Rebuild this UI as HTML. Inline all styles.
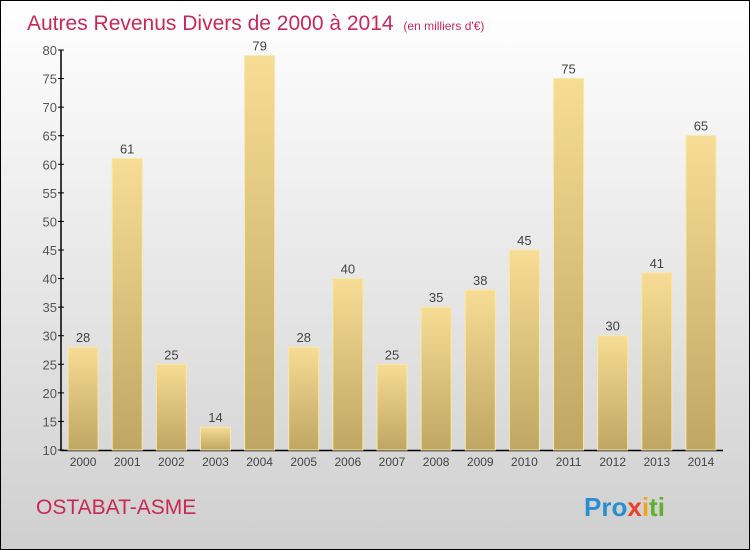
<!DOCTYPE html>
<html><head><meta charset="utf-8"><style>
body{margin:0}
#wrap{width:748px;height:548px;border:1px solid #000;background:linear-gradient(#ffffff,#cfcfcf);position:relative;font-family:"Liberation Sans",sans-serif;overflow:hidden}
</style></head><body>
<div id="wrap">
<svg width="748" height="548" id="chart">
<defs><linearGradient id="bg" x1="0" y1="0" x2="0" y2="1"><stop offset="0" stop-color="#f6dc94"/><stop offset="1" stop-color="#bfa662"/></linearGradient></defs>
<text x="26" y="29" font-size="21" fill="#c8285a">Autres Revenus Divers de 2000 à 2014 <tspan font-size="12" dx="4">(en milliers d'€)</tspan></text>
<text x="35" y="513" font-size="21" fill="#c8285a">OSTABAT-ASME</text>
<text x="583" y="515" font-size="26" font-weight="bold" fill="#2a8fd0">Pro<tspan fill="#e8402a">x</tspan><tspan fill="#f4a020">i</tspan><tspan fill="#60b030">ti</tspan></text>
<g id="axes"></g><g id="bars"></g>
</svg>
</div>
<script>
const categories=["2000","2001","2002","2003","2004","2005","2006","2007","2008","2009","2010","2011","2012","2013","2014"];
const values=[28,61,25,14,79,28,40,25,35,38,45,75,30,41,65];
const yTicks=[10,15,20,25,30,35,40,45,50,55,60,65,70,75,80];
const NS="http://www.w3.org/2000/svg";
const x0=60,x1=722,yTop=49,yBot=449,vMin=10,vMax=80;
const y=v=>yBot-(v-vMin)/(vMax-vMin)*(yBot-yTop);
const step=(x1-x0)/categories.length;
const xc=i=>x0+step*(i+0.5);
function mk(t,a,p){const e=document.createElementNS(NS,t);for(const k in a)e.setAttribute(k,a[k]);p.appendChild(e);return e;}
const ax=document.getElementById('axes'),bg=document.getElementById('bars');
yTicks.forEach(t=>{
 const l=mk('line',{x1:x0-3,x2:x0+3,y1:y(t),y2:y(t),stroke:'#000'},ax);
 
 
 const tx=mk('text',{x:x0-4,y:y(t)+5,'font-size':13,'text-anchor':'end',fill:'#555'},ax);
 tx.textContent=t;
 
 
});
categories.forEach((c,i)=>{
 const h=values[i];
 const r=mk('rect',{x:xc(i)-15,y:y(h),width:30,height:yBot-y(h),fill:'url(#bg)',stroke:'#f8e8a8','stroke-width':1},bg);
 
 
 const v=mk('text',{x:xc(i),y:y(h)-5,'font-size':13,'text-anchor':'middle',fill:'#444'},bg);
 v.textContent=h;
 
 
 const tx=mk('text',{x:xc(i),y:yBot+16,'font-size':12,'text-anchor':'middle',fill:'#444'},ax);
 tx.textContent=c;
 
 
});
const ya=mk('line',{x1:x0,x2:x0,y1:yTop,y2:yBot+1,stroke:'#000','stroke-width':1.5},ax);


const xa=mk('line',{x1:x0,x2:x1,y1:yBot+0.5,y2:yBot+0.5,stroke:'#000','stroke-width':1.5},ax);


</script>
</body></html>
